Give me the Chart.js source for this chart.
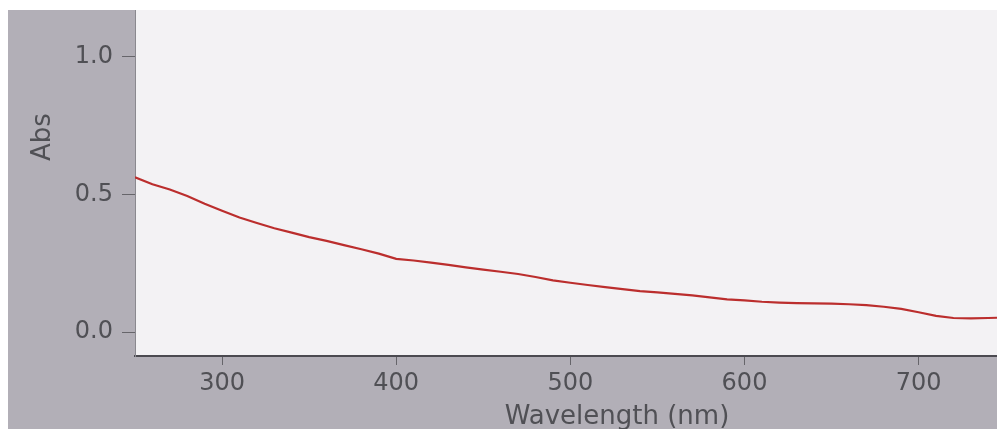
<!DOCTYPE html>
<html>
<head>
<meta charset="utf-8">
<script src="https://cdn.jsdelivr.net/npm/chart.js@4/dist/chart.umd.min.js"></script>
<style>
  html, body { margin: 0; padding: 0; background: #ffffff; }
  #wrap { position: relative; width: 997px; height: 429px; }
</style>
</head>
<body>
<div id="wrap"><canvas id="spectrum" width="997" height="429"></canvas></div>
<script>
// values
const WAVELENGTHS = [250, 260, 270, 280, 290, 300, 310, 320, 330, 340, 350, 360, 370, 380, 390,
                     400, 410, 420, 430, 440, 450, 460, 470, 480, 490, 500, 510, 520, 530, 540,
                     550, 560, 570, 580, 590, 600, 610, 620, 630, 640, 650, 660, 670, 680, 690,
                     700, 710, 720, 730, 740, 745];
const ABSORBANCE  = [0.562, 0.537, 0.518, 0.494, 0.466, 0.441, 0.416, 0.396, 0.377, 0.361, 0.345, 0.331, 0.316, 0.301, 0.285,
                     0.266, 0.260, 0.252, 0.244, 0.235, 0.227, 0.219, 0.211, 0.200, 0.188, 0.179, 0.171, 0.163, 0.156, 0.149,
                     0.144, 0.139, 0.133, 0.126, 0.119, 0.115, 0.110, 0.107, 0.105, 0.104, 0.103, 0.101, 0.098, 0.092, 0.084,
                     0.072, 0.059, 0.051, 0.050, 0.051, 0.052];
const X_TICKS = [300, 400, 500, 600, 700];
const Y_TICKS = [0.0, 0.5, 1.0];
const X_TITLE = 'Wavelength (nm)';
const Y_TITLE = 'Abs';

const TEXT = '#505055';
const FONT = 'DejaVu Sans';

// scanned page: gray card with a lighter plot panel
const backdrop = {
    id: 'backdrop',
    beforeDraw(chart) {
        const { ctx, chartArea: a } = chart;
        ctx.save();
        ctx.fillStyle = '#b2afb7';
        ctx.fillRect(8, 10, chart.width - 8, chart.height - 10);
        ctx.fillStyle = '#f3f2f4';
        ctx.fillRect(a.left, a.top, a.right - a.left, a.bottom - a.top);
        ctx.restore();
    },
    afterDraw(chart) {
        const { ctx } = chart;
        ctx.save();
        ctx.fillStyle = TEXT;
        ctx.font = '26px "' + FONT + '"';
        ctx.textAlign = 'center';
        ctx.textBaseline = 'alphabetic';
        ctx.fillText(X_TITLE, 617, 424);
        ctx.translate(50, 137);
        ctx.rotate(-Math.PI / 2);
        ctx.fillText(Y_TITLE, 0, 0);
        ctx.restore();
    }
};

new Chart(document.getElementById('spectrum'), {
    type: 'line',
    data: {
        datasets: [{
            data: WAVELENGTHS.map((w, i) => ({ x: w, y: ABSORBANCE[i] })),
            borderColor: '#bb2e2d',
            borderWidth: 2.2,
            pointRadius: 0,
            tension: 0,
            fill: false,
        }]
    },
    options: {
        responsive: false,
        animation: false,
        layout: { padding: { top: 10, right: 0, left: 0, bottom: 0 } },
        plugins: { legend: { display: false }, tooltip: { enabled: false } },
        scales: {
            x: {
                type: 'linear',
                min: 250,
                max: 745,
                afterBuildTicks: s => { s.ticks = X_TICKS.map(v => ({ value: v })); },
                afterFit: s => { s.height = 73; s.paddingLeft = 0; s.paddingRight = 0; },
                ticks: { color: TEXT, font: { family: FONT, size: 24 }, padding: 4, maxRotation: 0 },
                grid: { drawOnChartArea: false, tickLength: 9, color: '#66656a', lineWidth: 1 },
                border: { color: '#4b4a50', width: 2 },
            },
            y: {
                type: 'linear',
                min: -0.087,
                max: 1.17,
                afterBuildTicks: s => { s.ticks = Y_TICKS.map(v => ({ value: v })); },
                afterFit: s => { s.width = 135; s.paddingTop = 0; s.paddingBottom = 0; },
                ticks: { color: TEXT, font: { family: FONT, size: 24 }, padding: 9, callback: v => v.toFixed(1) },
                grid: { drawOnChartArea: false, tickLength: 13, color: '#66656a', lineWidth: 1 },
                border: { color: '#8a898f', width: 1 },
            }
        }
    },
    plugins: [backdrop]
});
</script>
</body>
</html>
